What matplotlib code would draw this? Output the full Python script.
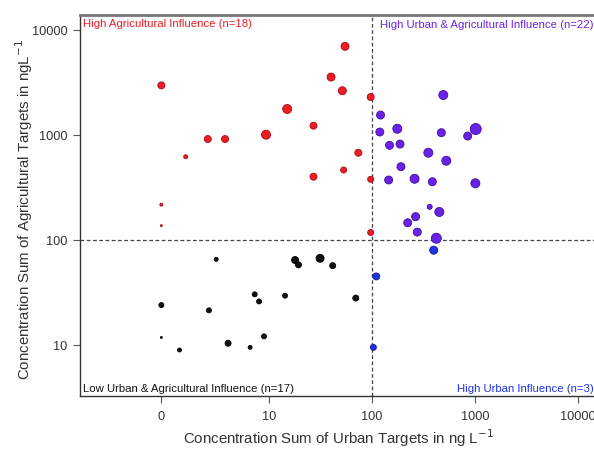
import matplotlib
matplotlib.use("Agg")
import matplotlib.pyplot as plt
from matplotlib.ticker import FixedLocator, FixedFormatter, NullLocator

plt.rcParams['font.family'] = ['Liberation Sans', 'DejaVu Sans']

# Concentration sums (ng/L); an urban sum of 0 is drawn at ZERO_POS on the log axis
ZERO_POS = 0.9

agri_x = [ZERO_POS, 1.55, 2.54, 3.74, 9.35, 15, 27, 27, 40, 51.5, 54.7, 53, 73.6, 97, 97, 97,
          ZERO_POS, ZERO_POS]
agri_y = [2970, 621, 916, 916, 1007, 1770, 1227, 401, 3565, 2640, 7000, 464, 678, 2300, 379, 118, 217, 137]
agri_s = [7, 4, 7, 7, 9, 9, 7, 7, 8, 8, 8, 6, 7, 7, 6, 6, 3, 2]

both_x = [492, 121, 119, 176, 471, 1016, 849, 148, 187, 352, 526, 191, 145, 259, 385, 1008,
          363, 450, 265, 222, 275, 421]
both_y = [2404, 1549, 1068, 1148, 1052, 1140, 977, 798, 820, 678, 569, 499, 373, 383, 359, 347,
          207, 185, 167, 146, 119, 104]
both_s = [9, 8, 8, 9, 8, 11, 8, 8, 8, 9, 9, 8, 8, 9, 8, 9, 5, 9, 8, 8, 8, 10]

urban_x = [397, 110, 103]
urban_y = [80, 45, 9.5]
urban_s = [8, 7, 6]

low_x = [3.07, 17.9, 19.3, 31.3, 41.5, 69.5, 14.3, 7.26, 8.0, ZERO_POS, 2.61, ZERO_POS, 1.35, 4.0, 6.55, 8.94]
low_y = [65.5, 64.5, 58, 67, 57, 28, 29.5, 30.4, 26, 24, 21.4, 11.8, 8.96, 10.4, 9.5, 12.1]
low_s = [4, 7, 6, 8, 6, 6, 5, 5, 5, 5, 5, 2, 4, 6, 4, 5]

x_tick_vals = [ZERO_POS, 10, 100, 1000, 10000]
x_tick_labels = ["0", "10", "100", "1000", "10000"]
y_tick_vals = [10, 100, 1000, 10000]
y_tick_labels = ["10", "100", "1000", "10000"]

labels = {
    "agri": "High Agricultural Influence (n=18)",
    "both": "High Urban & Agricultural Influence (n=22)",
    "low": "Low Urban & Agricultural Influence (n=17)",
    "urban": "High Urban Influence (n=3)",
}

RED = "#ee1c24"
PURPLE = "#6a22e6"
BLUE = "#1e32e8"
BLACK = "#111111"

fig = plt.figure(figsize=(5.94, 4.5), dpi=100)
ax = fig.add_axes([80 / 594, 1 - 396 / 450, 1 - 80 / 594, (396 - 15) / 450])
ax.set_xscale("log")
ax.set_yscale("log")
ax.set_xlim(0.146, 14300)
ax.set_ylim(3.27, 13900)


def area(d):
    return [(v * 0.72) ** 2 for v in d]


groups = [
    (agri_x, agri_y, agri_s, RED, "#a80a14"),
    (both_x, both_y, both_s, PURPLE, "#3e0c9e"),
    (urban_x, urban_y, urban_s, BLUE, "#0c1890"),
    (low_x, low_y, low_s, BLACK, "#000000"),
]
for xs, ys, ss, fc, ec in groups:
    ax.scatter(xs, ys, s=area(ss), c=fc, edgecolors=ec, linewidths=0.6, zorder=3)

ax.axvline(100, color="#444444", lw=0.9, ls=(0, (3, 2)), zorder=2)
ax.axhline(100, color="#444444", lw=0.9, ls=(0, (3, 2)), zorder=2)

ax.xaxis.set_major_locator(FixedLocator(x_tick_vals))
ax.xaxis.set_major_formatter(FixedFormatter(x_tick_labels))
ax.yaxis.set_major_locator(FixedLocator(y_tick_vals))
ax.yaxis.set_major_formatter(FixedFormatter(y_tick_labels))
ax.xaxis.set_minor_locator(NullLocator())
ax.yaxis.set_minor_locator(NullLocator())
ax.tick_params(axis="both", direction="out", length=5, width=0.8, color="#555555",
               labelsize=9.2, labelcolor="#333333")
ax.tick_params(axis="x", pad=6)
ax.tick_params(axis="y", pad=4)

ax.spines["right"].set_visible(False)
ax.spines["top"].set_color("#777777")
ax.spines["top"].set_linewidth(2.0)
ax.spines["left"].set_color("#333333")
ax.spines["bottom"].set_color("#333333")
ax.spines["left"].set_linewidth(1.0)
ax.spines["bottom"].set_linewidth(1.0)

fs = 8.2
ax.text(0.006, 0.976, labels["agri"], transform=ax.transAxes, color=RED, fontsize=fs,
        ha="left", va="center")
ax.text(0.999, 0.973, labels["both"], transform=ax.transAxes, color=PURPLE, fontsize=fs,
        ha="right", va="center")
ax.text(0.006, 0.018, labels["low"], transform=ax.transAxes, color=BLACK, fontsize=fs,
        ha="left", va="center")
ax.text(0.999, 0.018, labels["urban"], transform=ax.transAxes, color=BLUE, fontsize=fs,
        ha="right", va="center")

fig.text(338 / 594, 1 - 438 / 450, "Concentration Sum of Urban Targets in ng L$^{-1}$",
         ha="center", va="center", fontsize=10.8, color="#333333")
fig.text(24 / 594, 1 - 210 / 450, "Concentration Sum of Agricultural Targets in ngL$^{-1}$",
         ha="center", va="center", rotation=90, fontsize=10.8, color="#333333")

fig.savefig("out.png", dpi=100)
